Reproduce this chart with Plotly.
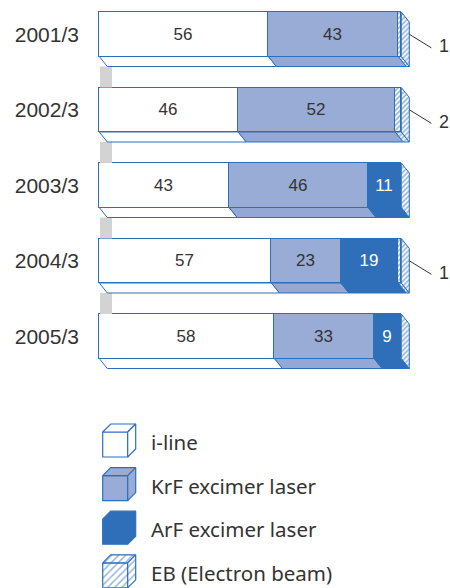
import plotly.graph_objects as go

# ---------------- data ----------------
years = ["2001/3", "2002/3", "2003/3", "2004/3", "2005/3"]
iline = [56, 46, 43, 57, 58]
krf = [43, 52, 46, 23, 33]
arf = [0, 0, 11, 19, 9]
eb = [1, 2, 0, 1, 0]
series_names = ["i-line", "KrF excimer laser", "ArF excimer laser", "EB (Electron beam)"]

# ---------------- style ----------------
BLUE = "#2f6fba"
KRF_C = "#98acd6"
KRF_BOTTOM = "#93a8d4"
ARF_C = "#2f6fba"
GRAY = "#d3d3d3"
TXT = "#333333"
front_colors = ["#ffffff", KRF_C, ARF_C, "#ffffff"]
bottom_colors = ["#ffffff", KRF_BOTTOM, ARF_C, "#ffffff"]

PX_X = 3.02     # px per x unit
PX_Y = 75.5     # px per category
ML = 90
PLOT_H = 400
W, H = 450, 588
X0PX = 99.3
xmin = -(X0PX - ML) / PX_X
xmax = xmin + (W - ML) / PX_X
ytop = -34.25 / PX_Y
ybot = ytop + PLOT_H / PX_Y
BW = 44.5 / PX_Y            # bar (front face) thickness
DX = 8 / PX_X               # depth offsets
DY = 10 / PX_Y
GX0, GX1 = 0.25, 4.2        # gray connector span

ypos = list(range(len(years)))
series = [iline, krf, arf, eb]
HATCH = dict(shape="/", fgcolor=BLUE, bgcolor="#ffffff", size=3.5, solidity=0.5)

fig = go.Figure()

# gray connectors between bars
gx, gy = [], []
for i in ypos[:-1]:
    y_a = i + BW / 2 + DY
    y_b = i + 1 - BW / 2
    gx += [GX0, GX1, GX1, GX0, GX0, None]
    gy += [y_a, y_a, y_b, y_b, y_a, None]
fig.add_trace(go.Scatter(x=gx, y=gy, fill="toself", fillcolor=GRAY, mode="lines",
                         line=dict(width=0, color=GRAY), hoverinfo="skip", showlegend=False))

# front faces
for k, (name, vals) in enumerate(zip(series_names, series)):
    txt = [str(v) if (v > 0 and k < 3) else "" for v in vals]
    marker = dict(color=front_colors[k], line=dict(color=BLUE, width=1))
    if k == 3:
        marker["pattern"] = HATCH
    fig.add_trace(go.Bar(
        y=ypos, x=vals, orientation="h", width=BW, name=name, marker=marker,
        text=txt, textposition="inside", insidetextanchor="middle", textangle=0,
        constraintext="none",
        textfont=dict(family="Liberation Sans, Arial, sans-serif", size=17,
                      color="#ffffff" if k == 2 else TXT),
        showlegend=False, hoverinfo="skip"))

# bottom faces
for k, vals in enumerate(series):
    bx, by = [], []
    for i in ypos:
        a = sum(series[j][i] for j in range(k))
        b = a + vals[i]
        if vals[i] <= 0:
            continue
        yb = i + BW / 2
        bx += [a, b, b + DX, a + DX, a, None]
        by += [yb, yb, yb + DY, yb + DY, yb, None]
    kw = dict(fillcolor=bottom_colors[k])
    if k == 3:
        kw["fillpattern"] = HATCH
    fig.add_trace(go.Scatter(x=bx, y=by, fill="toself", mode="lines",
                             line=dict(color=BLUE, width=1), hoverinfo="skip",
                             showlegend=False, **kw))

# right side faces (hatched)
sx, sy = [], []
for i in ypos:
    T = iline[i] + krf[i] + arf[i] + eb[i]
    yt, yb = i - BW / 2, i + BW / 2
    sx += [T, T + DX, T + DX, T, T, None]
    sy += [yt, yt + DY, yb + DY, yb, yt, None]
fig.add_trace(go.Scatter(x=sx, y=sy, fill="toself", mode="lines",
                         fillcolor="#ffffff", fillpattern=HATCH,
                         line=dict(color=BLUE, width=1), hoverinfo="skip", showlegend=False))

# EB value call-outs
annotations = []
for i in ypos:
    if eb[i] > 0:
        T = iline[i] + krf[i] + arf[i] + eb[i]
        fig.add_trace(go.Scatter(x=[T + DX, T + DX + 7.3], y=[i, i + 0.18], mode="lines",
                                 line=dict(color="#333333", width=1), hoverinfo="skip",
                                 showlegend=False))
        annotations.append(dict(x=T + DX + 9.3, y=i + 0.16, xref="x", yref="y",
                                text=str(eb[i]), showarrow=False, xanchor="left",
                                font=dict(family="Liberation Sans, Arial, sans-serif", size=18, color=TXT)))

# ---------------- legend (cubes) on a second pair of axes, pixel-like units ----------------
CS = 25   # cube face size
CD = 8    # cube depth
leg_y0 = [32 + 43.6 * k for k in range(4)]
leg_x0 = 12.7
for k, name in enumerate(series_names):
    x0, y0 = leg_x0, leg_y0[k]
    front = ([x0, x0 + CS, x0 + CS, x0, x0], [y0, y0, y0 + CS, y0 + CS, y0])
    top = ([x0, x0 + CD, x0 + CS + CD, x0 + CS, x0], [y0, y0 - CD, y0 - CD, y0, y0])
    right = ([x0 + CS, x0 + CS + CD, x0 + CS + CD, x0 + CS, x0 + CS],
             [y0, y0 - CD, y0 + CS - CD, y0 + CS, y0])
    for poly in (front, top, right):
        kw = dict(fillcolor=front_colors[k])
        if k == 3:
            kw["fillpattern"] = dict(shape="/", fgcolor=BLUE, bgcolor="#ffffff", size=5, solidity=0.3)
        fig.add_trace(go.Scatter(x=poly[0], y=poly[1], xaxis="x2", yaxis="y2", fill="toself",
                                 mode="lines", line=dict(color=BLUE, width=1.2),
                                 hoverinfo="skip", showlegend=False, **kw))
    annotations.append(dict(x=59, y=y0 + 10, xref="x2", yref="y2", text=name, showarrow=False,
                            xanchor="left", yanchor="middle",
                            font=dict(family="Noto Sans, Open Sans, sans-serif", size=20.5, color=TXT)))

dom_split = 1 - PLOT_H / H
fig.update_layout(
    width=W, height=H,
    margin=dict(l=ML, r=0, t=0, b=0, autoexpand=False),
    paper_bgcolor="#ffffff", plot_bgcolor="#ffffff",
    barmode="stack", bargap=0,
    showlegend=False,
    xaxis=dict(range=[xmin, xmax], visible=False, fixedrange=True),
    yaxis=dict(range=[ybot, ytop], domain=[dom_split, 1], tickvals=ypos, ticktext=years,
               showgrid=False, zeroline=False, showline=False, ticks="",
               ticklabelstandoff=10, automargin=False,
               tickfont=dict(family="Liberation Sans, Arial, sans-serif", size=21, color=TXT)),
    xaxis2=dict(range=[0, W - ML], domain=[0, 1], anchor="y2", visible=False),
    yaxis2=dict(range=[H * dom_split, 0], domain=[0, dom_split], anchor="x2", visible=False),
    annotations=annotations,
)

fig.write_html("out.html", config={"displayModeBar": False},
               post_script="document.body.style.margin='0';document.body.style.overflow='hidden';")
